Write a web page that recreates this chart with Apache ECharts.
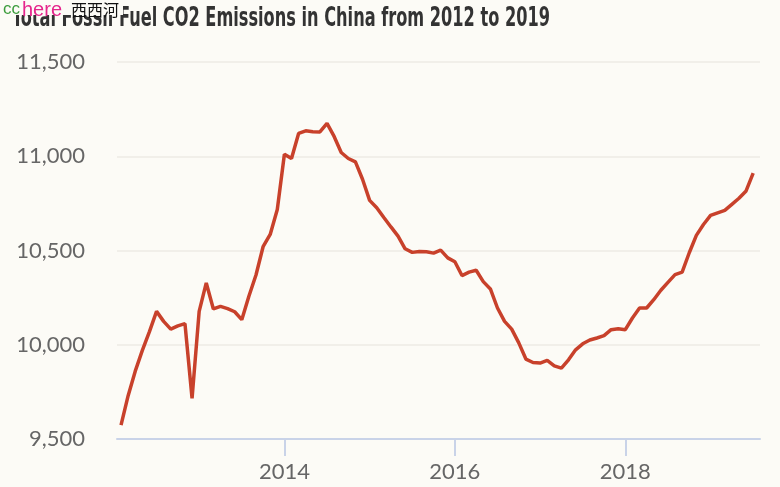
<!DOCTYPE html>
<html>
<head>
<meta charset="utf-8">
<script src="https://cdn.jsdelivr.net/npm/echarts@6/dist/echarts.min.js"></script>
<style>
html,body{margin:0;padding:0;background:#fcfbf6;}
#chart{width:780px;height:487px;}
</style>
</head>
<body>
<div id="chart"></div>
<script>
// Monthly series, starting Feb 2012
var startYear = 2012, startMonth = 2;
var emissions = [
  9574, 9730, 9860, 9970, 10070, 10177, 10124, 10083, 10100, 10112, 9716,
  10177, 10328, 10190, 10204, 10192, 10175, 10133, 10257, 10370, 10520, 10585, 10718,
  11011, 10988, 11121, 11135, 11130, 11129, 11174, 11105, 11020, 10988, 10970, 10878,
  10766, 10727, 10675, 10625, 10576, 10509, 10490, 10495, 10493, 10486, 10502, 10461,
  10440, 10367, 10385, 10395, 10335, 10296, 10195, 10124, 10083, 10010, 9924, 9906,
  9903, 9917, 9888, 9876, 9920, 9973, 10005, 10025, 10036, 10048, 10080, 10085,
  10080, 10142, 10195, 10195, 10239, 10289, 10331, 10372, 10385, 10488, 10580, 10638,
  10686, 10700, 10713, 10745, 10777, 10816, 10910
];
var xTickYears = [2014, 2016, 2018];
var yTicks = [9500, 10000, 10500, 11000, 11500];
var titleText = 'Total Fossil Fuel CO2 Emissions in China from 2012 to 2019';

var seriesData = emissions.map(function (v, i) {
  var m = startMonth - 1 + i;
  var yr = startYear + Math.floor(m / 12);
  var mo = m % 12;
  return [yr + mo / 12, v];
});

var titleFont = 'bold 27px "DejaVu Sans Condensed", "DejaVu Sans", sans-serif';
var cv = document.createElement('canvas').getContext('2d');
cv.font = titleFont;
var titleScale = 538 / cv.measureText(titleText).width;

var chart = echarts.init(document.getElementById('chart'), null, {renderer: 'canvas'});
chart.setOption({
  backgroundColor: '#fcfbf6',
  animation: false,
  grid: {left: 117, right: 20, top: 62, bottom: 48, containLabel: false},
  xAxis: {
    type: 'value',
    min: 2012.036,
    max: 2019.58,
    splitLine: {show: false},
    axisLine: {show: true, lineStyle: {color: '#c9d3e8', width: 2}},
    axisTick: {show: true, customValues: xTickYears, length: 17, lineStyle: {color: '#c9d3e8', width: 2}},
    axisLabel: {
      customValues: xTickYears,
      formatter: function (v) { return String(Math.round(v)); },
      fontFamily: 'Lato', fontSize: 22, color: '#666', margin: 22
    }
  },
  yAxis: {
    type: 'value',
    min: yTicks[0],
    max: yTicks[yTicks.length - 1],
    interval: 500,
    axisLine: {show: false},
    axisTick: {show: false},
    splitLine: {show: true, lineStyle: {color: '#f1efe9', width: 2}},
    axisLabel: {
      formatter: function (v) { return v.toLocaleString('en-US'); },
      fontFamily: 'Lato', fontSize: 22, color: '#666', margin: 32
    }
  },
  series: [{
    type: 'line',
    data: seriesData,
    showSymbol: false,
    lineStyle: {color: '#c8412b', width: 3.5},
    z: 3
  }],
  graphic: [
    {type: 'text', x: 12, y: 5, scaleX: titleScale, z: 1,
     style: {text: titleText, font: titleFont, fill: '#333'}},
    {type: 'rect', shape: {x: 0, y: 0, width: 123, height: 15}, style: {fill: '#fcfbf6'}, z: 5},
    {type: 'text', x: 3, y: 1, z: 6, style: {text: 'cc', font: '17px "Liberation Sans", sans-serif', fill: '#3c9c3c'}},
    {type: 'text', x: 22, y: 0, z: 6, style: {text: 'here', font: '20px "Liberation Sans", sans-serif', fill: '#e5258c'}},
    {type: 'text', x: 71, y: 2, z: 6, style: {text: '西西河', font: '16px "Noto Sans CJK SC", sans-serif', fill: '#111'}}
  ]
});
</script>
</body>
</html>
